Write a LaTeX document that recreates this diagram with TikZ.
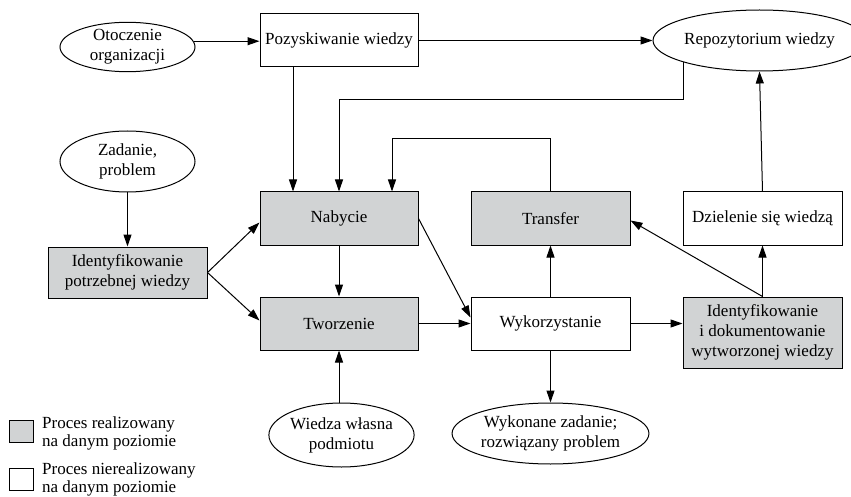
\documentclass[tikz,border=0pt]{standalone}
\usepackage{fontspec}
\setmainfont{Liberation Serif}
\usetikzlibrary{shapes.geometric,arrows.meta,calc}
\definecolor{procgray}{RGB}{209,211,212}
\begin{document}
\begin{tikzpicture}[x=1pt,y=-1pt,
  base/.style={draw=black,line width=1pt,align=center,inner sep=1pt,
    font=\fontsize{17}{20}\selectfont},
  proc/.style={base,rectangle,minimum width=158pt,minimum height=53pt},
  done/.style={proc,fill=procgray},
  oval/.style={base,ellipse,inner sep=0pt},
  arr/.style={line width=1pt,-{Triangle[length=12pt,width=8pt]}},
  ln/.style={line width=1pt},
  legtext/.style={font=\fontsize{17}{18}\selectfont,align=left,anchor=west,inner sep=0pt}]
\useasboundingbox (0,0) rectangle (851,497);

% top row
\node[oval,minimum width=135pt,minimum height=48pt] (oto) at (127.5,47) {Otoczenie\\organizacji};
\node[proc] (poz) at (339,40.5) {Pozyskiwanie wiedzy};
\node[oval,minimum width=181pt,minimum height=61pt] (repo) at (759.5,40.5) {Repozytorium wiedzy};

% middle rows
\node[oval,minimum width=135pt,minimum height=61pt] (zad) at (127.5,161.5) {Zadanie,\\problem};
\node[done] (nab) at (339,218.5) {Nabycie};
\node[done,minimum width=159pt] (tra) at (550.5,218.5) {Transfer};
\node[proc,minimum width=159pt] (dzi) at (762.5,218.5) {Dzielenie się wiedzą};
\node[done,minimum width=159pt,minimum height=51pt] (idp) at (127.5,272.5) {Identyfikowanie\\potrzebnej wiedzy};
\node[done] (two) at (339,323.5) {Tworzenie};
\node[proc,minimum width=159pt] (wyk) at (550.5,323.5) {Wykorzystanie};
\node[done,minimum width=159pt,minimum height=71pt] (idd) at (762.5,332.5) {Identyfikowanie\\i dokumentowanie\\wytworzonej wiedzy};

% bottom row
\node[oval,minimum width=139pt,minimum height=64pt] (wwp) at (341.5,435) {Wiedza własna\\podmiotu};
\node[oval,minimum width=185pt,minimum height=61pt] (wz) at (550.5,433.5) {Wykonane zadanie;\\rozwiązany problem};

% routing points
\coordinate (j1) at (339,100);
\coordinate (j2) at (392,139);

% connectors
\draw[arr] (oto.5.7) -- (oto.5.7 -| poz.west);
\draw[arr] (poz.east) -- (repo.west);
\draw[arr] ($(poz.south)+(-46,0)$) -- ($(nab.north)+(-46,0)$);
\draw[arr] (repo.south west) |- (j1) -- (nab.north);
\draw[arr] (tra.north) |- (j2) -- (j2 |- nab.north);
\draw[arr] (zad.south) -- (idp.north);
\draw[arr] (idp.east) -- ($(nab.west)+(0,4)$);
\draw[arr] (idp.east) -- ($(two.west)+(0,-3)$);
\draw[arr] (nab.south) -- (two.north);
\draw[arr] (wwp.north -| two.south) -- (two.south);
\draw[arr] (two.east) -- (wyk.west);
\draw[arr] (nab.east) -- ($(wyk.west)+(0,-6)$);
\draw[arr] (wyk.north) -- (tra.south);
\draw[arr] (wyk.south) -- (wz.north);
\draw[arr] (wyk.east) -- (wyk.east -| idd.west);
\draw[arr] (idd.north) -- (dzi.south);
\draw[arr] (idd.north) -- ($(tra.east)+(0,2)$);
\draw[arr] (dzi.north) -- (repo.south);

% legend
\node[draw,ln,fill=procgray,minimum width=24pt,minimum height=22pt,inner sep=0pt] (lg1) at (21,431) {};
\node[draw,ln,minimum width=24pt,minimum height=22pt,inner sep=0pt] (lg2) at (21,479) {};
\node[legtext] (lt1) at (42,433) {Proces realizowany\\na danym poziomie};
\node[legtext] (lt2) at (42,479) {Proces nierealizowany\\na danym poziomie};
\end{tikzpicture}
\end{document}
